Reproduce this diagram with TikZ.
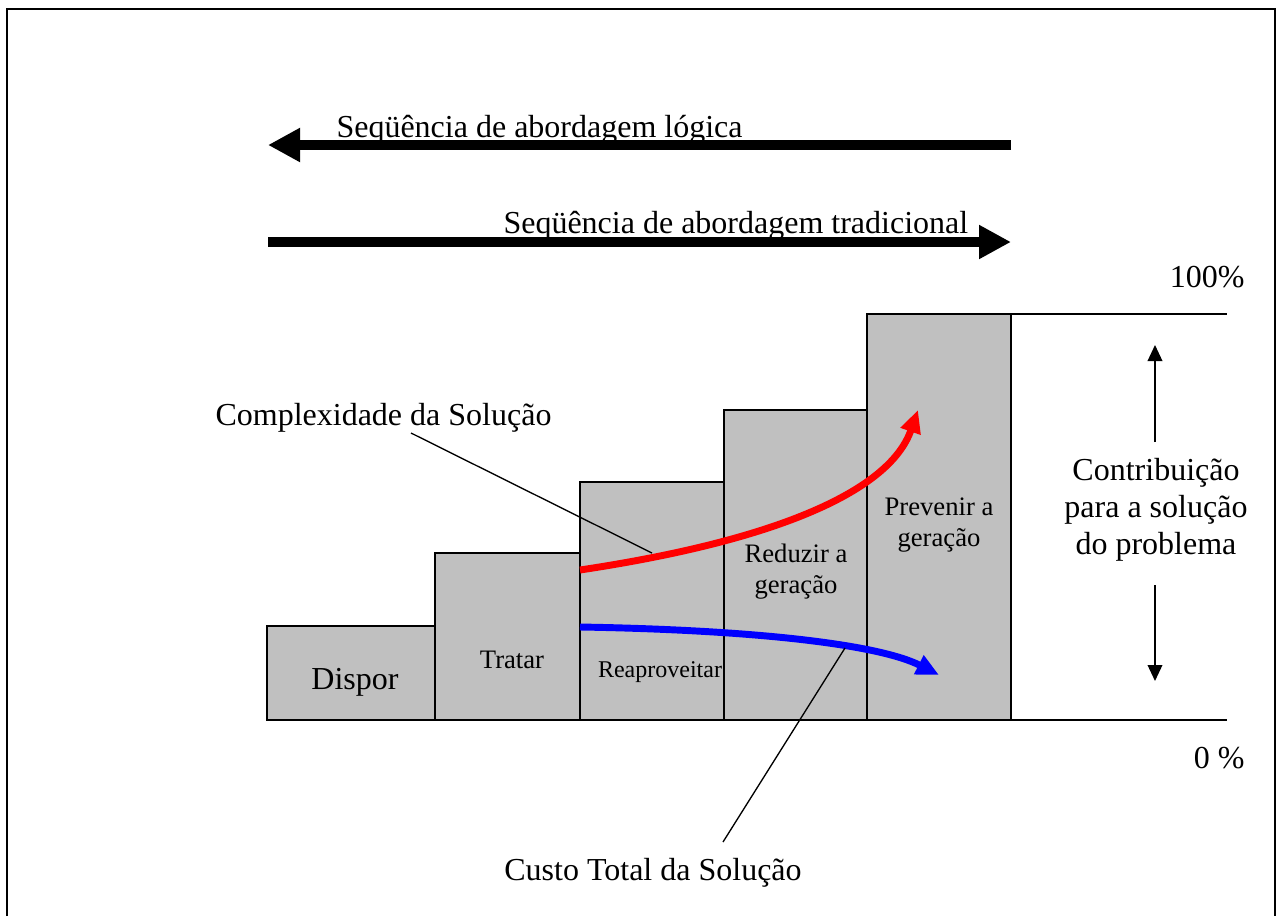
\documentclass[tikz,border=0pt]{standalone}
\usepackage{fontspec}
\setmainfont{Liberation Serif}
\usetikzlibrary{arrows.meta}
\definecolor{bargray}{RGB}{192,192,192}
\tikzset{
	bar/.style={draw=black,fill=bargray,line width=0.6pt},
	bigarrow/.style={line width=4pt,-{Triangle[length=12pt,width=12pt]}},
	curvearrow/.style={line width=2.6pt,-{Triangle[length=8.5pt,width=7.5pt]}},
	thinarrow/.style={line width=0.55pt,-{Triangle[length=6pt,width=5.5pt]}},
	leader/.style={line width=0.5pt},
	lbl/.style={inner sep=0pt,font=\fontsize{12}{13.8}\selectfont},
	barlbl/.style={inner sep=0pt,align=center,font=\fontsize{10}{11.5}\selectfont}
}
\begin{document}
\begin{tikzpicture}[x=0.375pt,y=-0.375pt]
\useasboundingbox (0,0) rectangle (1277,916);
% frame
\draw[line width=0.75pt] (7,916) -- (7,9) -- (1275,9) -- (1275,916);

% top arrows
\coordinate (logR) at (1011,145); \coordinate (logL) at (268,145);
\coordinate (traL) at (268,242); \coordinate (traR) at (1011,242);
\draw[bigarrow] (logR) -- (logL);
\draw[bigarrow] (traL) -- (traR);
\node[lbl,anchor=base west] (logica) at (336,137) {Seqüência de abordagem lógica};
\node[lbl,anchor=base west] (tradicional) at (503,233) {Seqüência de abordagem tradicional};

% bars
\foreach \xa/\xb/\top in {267/435/626, 435/580/553, 580/724/482, 724/867/410, 867/1011/314}
	\draw[bar] (\xa,720) rectangle (\xb,\top);
\draw[line width=0.8pt] (290,720) -- (1227,720);
\draw[line width=0.6pt] (1011,314) -- (1227,314);

\node[lbl,anchor=base] (dispor) at (355,689) {Dispor};
\node[barlbl,anchor=base] (tratar) at (512,668) {Tratar};
\node[barlbl,anchor=base,font=\fontsize{9}{11}\selectfont] (reapr) at (660,677) {Reaproveitar};
\node[barlbl,anchor=base] (reduzir) at (796,593) {Reduzir a\\geração};
\node[barlbl,anchor=base] (prevenir) at (939,546) {Prevenir a\\geração};

% curves
\coordinate (cplxS) at (580,570); \coordinate (cplxE) at (918,410);
\coordinate (custS) at (580,627); \coordinate (custE) at (939,675);
\draw[curvearrow,red] (cplxS) .. controls (780,540) and (890,490) .. (cplxE);
\draw[curvearrow,blue] (custS) .. controls (760,630) and (880,645) .. (custE);

% labels with leaders
\node[lbl,anchor=base west] (complex) at (215,425) {Complexidade da Solução};
\node[lbl,anchor=base] (custo) at (653,880) {Custo Total da Solução};
\coordinate (cplxA) at (411,433); \coordinate (cplxB) at (652,553);
\coordinate (custA) at (723,842); \coordinate (custB) at (845,648);
\draw[leader] (cplxA) -- (cplxB);
\draw[leader] (custA) -- (custB);

% contribution scale
\node[lbl,anchor=base east] (cem) at (1245,287) {100\%};
\node[lbl,anchor=base east] (zero) at (1245,768) {0 \%};
\node[lbl,anchor=base,align=center] (contrib) at (1156,554) {Contribuição\\para a solução\\do problema};
\coordinate (upA) at (1155,442); \coordinate (upB) at (1155,345);
\coordinate (dnA) at (1155,585); \coordinate (dnB) at (1155,681);
\draw[thinarrow] (upA) -- (upB);
\draw[thinarrow] (dnA) -- (dnB);
\end{tikzpicture}
\end{document}
